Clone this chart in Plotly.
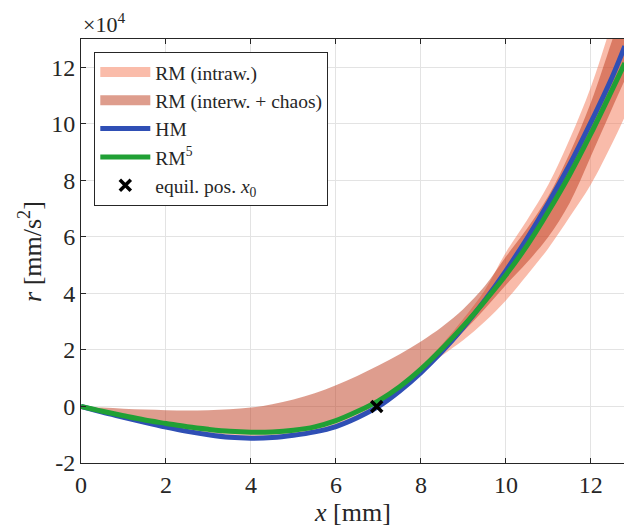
import plotly.graph_objects as go

# ---- data (r in units of 1e4 mm/s^2) ----
x_mm = [0, 0.5, 1, 1.5, 2, 2.5, 3, 3.5, 4, 4.5, 5, 5.5, 6, 6.5, 7, 7.5, 8,
        8.5, 9, 9.5, 10, 10.5, 11, 11.5, 12, 12.5, 12.8]

hm = [0, -0.2, -0.38, -0.56, -0.73, -0.88, -1.0, -1.09, -1.12, -1.1, -1.02, -0.9,
      -0.71, -0.4, 0.0, 0.55, 1.2, 1.95, 2.8, 3.75, 4.8, 5.95, 7.2, 8.55, 10.05, 11.65, 12.75]

rm5 = [0, -0.17, -0.33, -0.48, -0.6, -0.72, -0.81, -0.88, -0.91, -0.9, -0.84, -0.72,
       -0.5, -0.18, 0.2, 0.7, 1.32, 2.05, 2.85, 3.72, 4.65, 5.7, 6.9, 8.2, 9.65, 11.2, 12.15]

intraw_lo = [0, -0.17, -0.35, -0.53, -0.7, -0.85, -0.97, -1.06, -1.09, -1.07, -0.99, -0.87,
             -0.68, -0.37, 0.03, 0.58, 1.2, 1.8, 2.35, 3.0, 3.75, 4.65, 5.6, 6.7, 7.85, 9.3, 10.25]
intraw_hi = [0, -0.17, -0.33, -0.48, -0.6, -0.72, -0.81, -0.88, -0.91, -0.9, -0.84, -0.72,
             -0.5, -0.18, 0.2, 0.7, 1.4, 2.2, 3.1, 4.1, 5.45, 6.6, 7.85, 9.45, 11.3, 13.6, 15.0]

interw_lo = [0, -0.23, -0.39, -0.54, -0.66, -0.78, -0.87, -0.94, -0.97, -0.96, -0.9, -0.78,
             -0.56, -0.24, 0.14, 0.64, 1.25, 1.9, 2.65, 3.45, 4.3, 5.1, 6.0, 7.2, 8.85, 10.55, 11.55]
interw_hi = [0, -0.04, -0.08, -0.11, -0.13, -0.14, -0.13, -0.1, -0.04, 0.08, 0.25, 0.47,
             0.75, 1.08, 1.45, 1.85, 2.3, 2.82, 3.45, 4.25, 5.3, 6.3, 7.45, 8.95, 10.75, 12.95, 14.3]

x_eq = [6.96]
r_eq = [0.0]

x_ticks = [0, 2, 4, 6, 8, 10, 12]
y_ticks = [-2, 0, 2, 4, 6, 8, 10, 12]

C_LIGHT = "rgba(244,120,85,0.5)"
C_DARK = "rgba(190,60,30,0.5)"
C_LIGHT_LEG = "rgb(250,188,170)"
C_DARK_LEG = "rgb(222,157,141)"
C_BLUE = "#2f4fb5"
C_GREEN = "#20a035"
AX = "#262626"
FONT = "Liberation Serif"

fig = go.Figure()

# intra-wafer band
fig.add_trace(go.Scatter(x=x_mm, y=intraw_lo, mode="lines",
                         line=dict(width=0, shape="spline"), showlegend=False, hoverinfo="skip"))
fig.add_trace(go.Scatter(x=x_mm, y=intraw_hi, mode="lines",
                         line=dict(width=0, shape="spline"), fill="tonexty",
                         fillcolor=C_LIGHT, showlegend=False, hoverinfo="skip"))
# inter-wafer + chaos band
fig.add_trace(go.Scatter(x=x_mm, y=interw_lo, mode="lines",
                         line=dict(width=0, shape="spline"), showlegend=False, hoverinfo="skip"))
fig.add_trace(go.Scatter(x=x_mm, y=interw_hi, mode="lines",
                         line=dict(width=0, shape="spline"), fill="tonexty",
                         fillcolor=C_DARK, showlegend=False, hoverinfo="skip"))

# legend proxies for bands
fig.add_trace(go.Scatter(x=[None], y=[None], mode="lines", name="RM (intraw.)",
                         line=dict(color=C_LIGHT_LEG, width=16)))
fig.add_trace(go.Scatter(x=[None], y=[None], mode="lines", name="RM (interw. + chaos)",
                         line=dict(color=C_DARK_LEG, width=16)))

fig.add_trace(go.Scatter(x=x_mm, y=hm, mode="lines", name="HM",
                         line=dict(color=C_BLUE, width=5, shape="spline")))
fig.add_trace(go.Scatter(x=x_mm, y=rm5, mode="lines", name="RM<sup>5</sup>",
                         line=dict(color=C_GREEN, width=5, shape="spline")))
fig.add_trace(go.Scatter(x=x_eq, y=r_eq, mode="markers", name="equil. pos. <i>x</i><sub>0</sub>",
                         marker=dict(symbol="x-thin", size=11, color="black",
                                     line=dict(color="black", width=3.5))))

fig.update_layout(
    width=624, height=528,
    margin=dict(l=81, r=0, t=39, b=65, autoexpand=False),
    plot_bgcolor="white", paper_bgcolor="white",
    font=dict(family=FONT, size=24, color=AX),
    legend=dict(x=0.0245, y=0.97, xanchor="left", yanchor="top",
                traceorder="normal",
                bgcolor="white", bordercolor=AX, borderwidth=1,
                font=dict(family=FONT, size=19.5, color=AX),
                itemwidth=50, tracegroupgap=0),
    annotations=[
        dict(text="×10<sup>4</sup>", xref="paper", yref="paper",
             x=0, y=1.0, xanchor="left", yanchor="bottom",
             showarrow=False, font=dict(family=FONT, size=22, color=AX)),
        dict(text="<i>x</i> [mm]", xref="paper", yref="paper",
             x=0.5, y=-0.117, xanchor="center", yanchor="middle",
             showarrow=False, font=dict(family=FONT, size=26, color=AX)),
        dict(text="<i>r</i> [mm/s<sup>2</sup>]", xref="paper", yref="paper",
             x=-0.094, y=0.5, xanchor="center", yanchor="middle", textangle=-90,
             showarrow=False, font=dict(family=FONT, size=26, color=AX)),
    ],
)
fig.update_xaxes(range=[0, 12.78], tickvals=x_ticks, ticktext=[str(v) for v in x_ticks],
                 ticks="inside", ticklen=5, tickcolor=AX, showline=True, linecolor=AX,
                 linewidth=1, mirror="ticks", showgrid=True, gridcolor="#e3e3e3",
                 gridwidth=1, zeroline=False, automargin=False,
                 tickfont=dict(family=FONT, size=24, color=AX))
fig.update_yaxes(range=[-2, 13], tickvals=y_ticks, ticktext=[str(v) for v in y_ticks],
                 ticks="inside", ticklen=5, tickcolor=AX, showline=True, linecolor=AX,
                 linewidth=1, mirror=False, showgrid=True, gridcolor="#e3e3e3",
                 gridwidth=1, zeroline=False, automargin=False,
                 tickfont=dict(family=FONT, size=24, color=AX))

fig.write_html(
    "out.html",
    config={"displayModeBar": False},
    post_script=("document.documentElement.style.margin='0';"
                 "document.body.style.margin='0';"
                 "document.body.style.overflow='hidden';"),
)
